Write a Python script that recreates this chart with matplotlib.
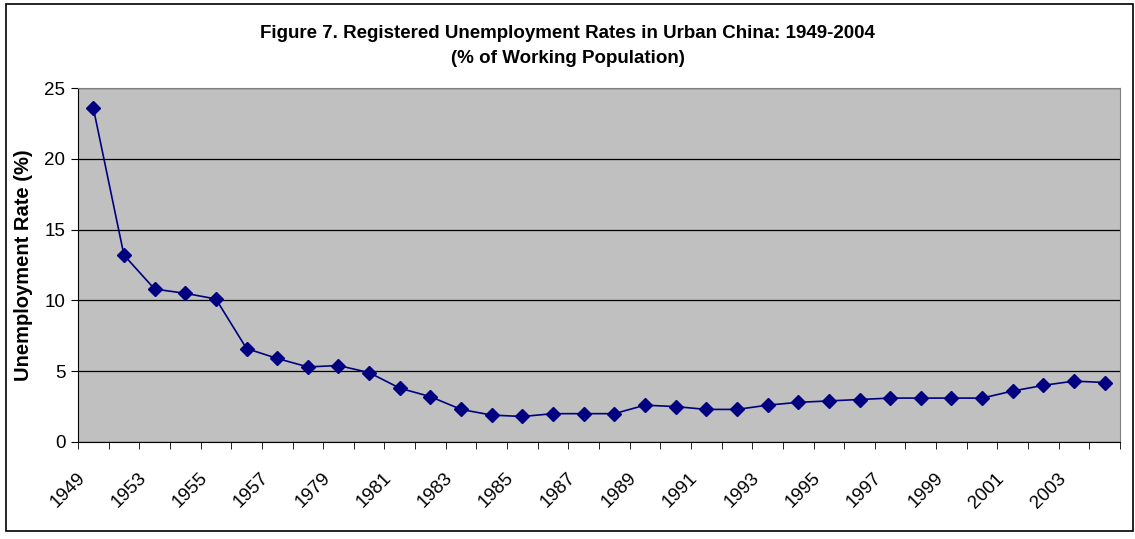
import matplotlib
matplotlib.use('Agg')
import matplotlib.pyplot as plt
import matplotlib.transforms as mtransforms
import numpy as np

plt.rcParams['font.family'] = ['Liberation Sans', 'DejaVu Sans']

years = ['1949', '1952', '1953', '1954', '1955', '1956', '1957', '1978', '1979',
         '1980', '1981', '1982', '1983', '1984', '1985', '1986', '1987', '1988',
         '1989', '1990', '1991', '1992', '1993', '1994', '1995', '1996', '1997',
         '1998', '1999', '2000', '2001', '2002', '2003', '2004']
rates = [23.6, 13.2, 10.8, 10.5, 10.1, 6.6, 5.9, 5.3, 5.4,
         4.9, 3.8, 3.2, 2.3, 1.9, 1.8, 2.0, 2.0, 2.0,
         2.6, 2.5, 2.3, 2.3, 2.6, 2.8, 2.9, 3.0, 3.1,
         3.1, 3.1, 3.1, 3.6, 4.0, 4.3, 4.2]
tick_labels = ['1949', '1953', '1955', '1957', '1979', '1981', '1983', '1985',
               '1987', '1989', '1991', '1993', '1995', '1997', '1999', '2001', '2003']

fig = plt.figure(figsize=(11.35, 5.39), dpi=100)
# outer chart border
fig.patches.append(plt.Rectangle((0.005, 0.014), 0.993, 0.978, transform=fig.transFigure,
                                 fill=False, edgecolor='black', linewidth=1.2))

ax = fig.add_axes([0.0687, 0.180, 0.9181, 0.6567])
ax.set_facecolor('#C0C0C0')

x = np.arange(len(years))
ax.plot(x, rates, color='#000080', linewidth=1.2, marker='D', markersize=7.5,
        markerfacecolor='#000080', markeredgecolor='#000080', zorder=3)

ax.set_xlim(-0.5, len(years) - 0.5)
ax.set_ylim(0, 25)
ax.set_yticks(np.arange(0, 26, 5))
ax.yaxis.grid(True, color='black', linewidth=0.9)
ax.set_axisbelow(True)

ax.set_xticks(x[::2])
ax.set_xticklabels(tick_labels, rotation=45, ha='right', rotation_mode='anchor')
ax.set_xticks(np.arange(-0.5, len(years), 1), minor=True)
ax.tick_params(axis='x', which='major', length=0, labelsize=13.5, pad=20)
ax.tick_params(axis='x', which='minor', length=5, color='black')
ax.tick_params(axis='y', length=5, labelsize=13.5, pad=4)

# labels sit a little left of the category centre, like the original
shift = mtransforms.ScaledTranslation(-0.17, 0, fig.dpi_scale_trans)
for lab in ax.get_xticklabels():
    lab.set_transform(lab.get_transform() + shift)

for side in ['top', 'right']:
    ax.spines[side].set_color('#808080')
ax.spines['left'].set_color('black')
ax.spines['bottom'].set_color('black')

ax.set_ylabel('Unemployment Rate (%)', fontsize=14.5, fontweight='bold', labelpad=8)

fig.text(0.5, 0.938, 'Figure 7. Registered Unemployment Rates in Urban China: 1949-2004',
         ha='center', va='center', fontsize=13.5, fontweight='bold')
fig.text(0.5, 0.891, '(% of Working Population)',
         ha='center', va='center', fontsize=13.5, fontweight='bold')

fig.savefig('out.png', dpi=100)
